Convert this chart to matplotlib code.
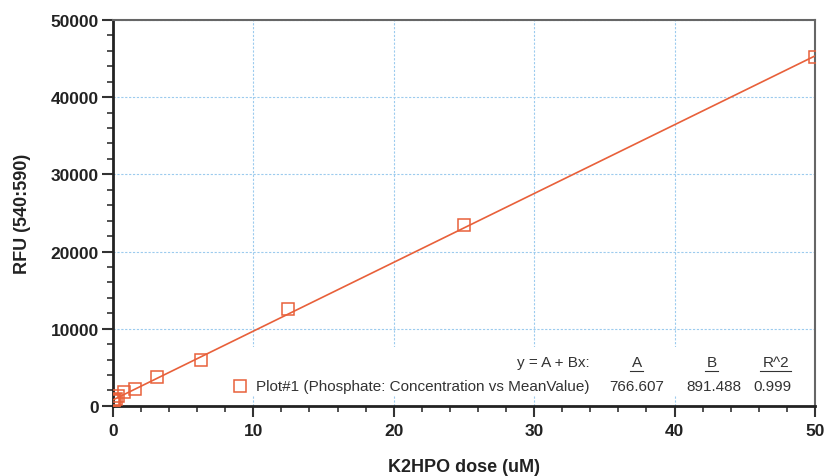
import numpy as np
import matplotlib
matplotlib.use('Agg')
import matplotlib.pyplot as plt
from matplotlib.patches import Rectangle
from matplotlib.ticker import MultipleLocator

plt.rcParams['font.family'] = ['Liberation Sans', 'DejaVu Sans']

#data
dose = [0, 0.049, 0.098, 0.195, 0.39, 0.78, 1.5625, 3.125, 6.25, 12.5, 25, 50]
rfu = [650, 700, 800, 950, 1250, 1750, 2200, 3800, 6000, 12600, 23500, 45200]

#fit parameters
fit_A = 766.607
fit_B = 891.488
fit_R2 = 0.999
col_heads = ['A', 'B', 'R^2']

red = '#e8603a'

fig = plt.figure(figsize=(8.24, 4.77), dpi=100)
ax = fig.add_axes([0.137, 0.147, 0.852, 0.809])

xfit = np.array([0, 50])
ax.plot(xfit, fit_A + fit_B*xfit, color=red, lw=1.2, zorder=3)
ax.plot(dose, rfu, ls='none', marker='s', ms=9, mfc='none', mec=red, mew=1.1, zorder=4)

ax.set_xlim(0, 50)
ax.set_ylim(0, 50000)
ax.xaxis.set_major_locator(MultipleLocator(10))
ax.xaxis.set_minor_locator(MultipleLocator(2))
ax.yaxis.set_major_locator(MultipleLocator(10000))
ax.yaxis.set_minor_locator(MultipleLocator(2000))
ax.grid(True, which='major', color='#9ccbee', ls=(0, (2, 1.5)), lw=0.8)

for s in ['left', 'bottom']:
    ax.spines[s].set_linewidth(2)
    ax.spines[s].set_color('#222222')
for s in ['top', 'right']:
    ax.spines[s].set_linewidth(1.5)
    ax.spines[s].set_color('#666666')
ax.tick_params(which='major', length=8, width=1.5, color='#333333', labelsize=12.5, pad=2)
ax.tick_params(axis='x', which='major', pad=4)
ax.tick_params(which='minor', length=4.5, width=1.2, color='#333333')
for lab in ax.get_xticklabels() + ax.get_yticklabels():
    lab.set_fontweight('bold')
    lab.set_color('#222222')

ax.set_xlabel('K2HPO dose (uM)', fontsize=13, fontweight='bold', labelpad=15, color='#222222')
ax.set_ylabel('RFU (540:590)', fontsize=13, fontweight='bold', labelpad=14, color='#222222')

#legend / fit box
ax.add_patch(Rectangle((0.16, 0.026), 0.826, 0.127, transform=ax.transAxes,
                       facecolor='white', edgecolor='none', zorder=2))
ax.plot([0.181], [0.052], transform=ax.transAxes, marker='s', ms=8, mfc='none',
        mec=red, mew=1.1, zorder=5)
tk = dict(transform=ax.transAxes, fontsize=11, color='#333333', zorder=5, va='center')
ax.text(0.204, 0.052, 'Plot#1 (Phosphate: Concentration vs MeanValue)', ha='left', **tk)
ax.text(0.679, 0.114, 'y = A + Bx:', ha='right', **tk)
head_x = [0.746, 0.853, 0.944]
val_x = [0.746, 0.856, 0.939]
vals = ['%.3f' % fit_A, '%.3f' % fit_B, '%.3f' % fit_R2]
for hx, vx, h, v in zip(head_x, val_x, col_heads, vals):
    ax.text(hx, 0.114, h, ha='center', **tk)
    ax.text(vx, 0.052, v, ha='center', **tk)
    w = 0.003 + 0.0065*len(h)
    ax.plot([hx - w, hx + w], [0.091, 0.091], transform=ax.transAxes,
            color='#333333', lw=0.8, zorder=5)

plt.savefig('out.png', dpi=100)
